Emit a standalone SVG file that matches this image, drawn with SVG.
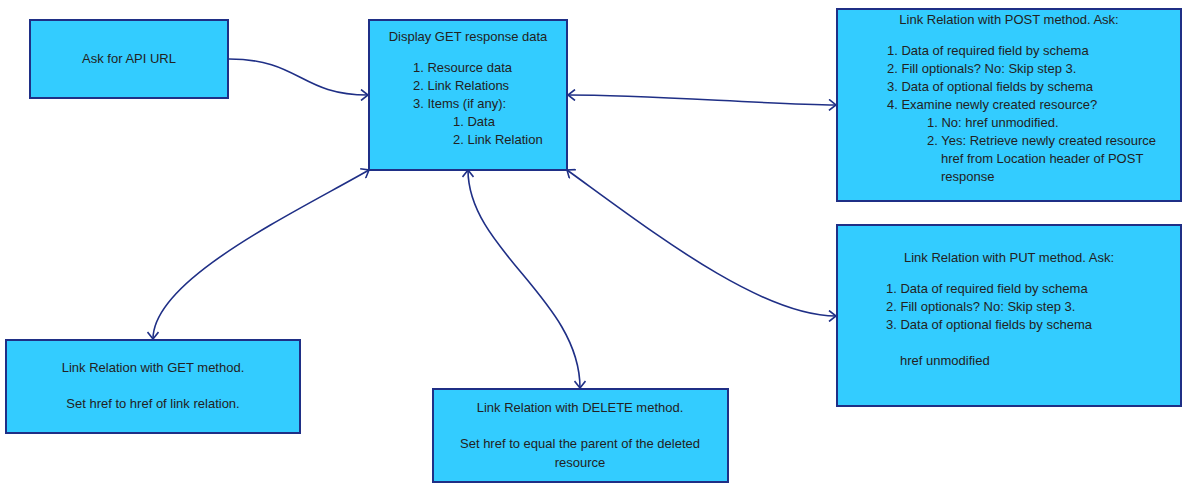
<svg xmlns="http://www.w3.org/2000/svg" width="1189" height="488" viewBox="0 0 1189 488">
<style>
.box{fill:#33ccff;stroke:#1f2f86;stroke-width:2}
.t{font-family:"Liberation Sans",Arial,sans-serif;font-size:13px;fill:#222}
.c{text-anchor:middle}
.edge{fill:none;stroke:#1f2f86;stroke-width:1.6;marker-end:url(#arr)}
.bi{marker-start:url(#arr)}
</style>
<defs>
<marker id="arr" viewBox="0 0 10 12" refX="9" refY="6" markerWidth="10" markerHeight="12" markerUnits="userSpaceOnUse" orient="auto-start-reverse">
<path d="M2,0.5 L9,6 L2,11.5" fill="none" stroke="#1f2f86" stroke-width="1.6"/>
</marker>
</defs>
<rect width="1189" height="488" fill="#ffffff"/>
<g id="connectors">
<path class="edge" d="M229,59 C300,59 300,95 368,95"/>
<path class="edge bi" d="M568,95 C650,95 760,104 836,105"/>
<path class="edge bi" d="M369,170 C290,215 153,280 153,339"/>
<path class="edge bi" d="M468,170 C468,250 580,300 580,388"/>
<path class="edge bi" d="M567,170 C650,230 760,316 836,316"/>
</g>
<g id="ask">
<rect class="box" x="30" y="20" width="198" height="78"/>
<text class="t c" x="129" y="63">Ask for API URL</text>
</g>
<g id="display">
<rect class="box" x="369" y="20" width="198" height="150"/>
<text class="t c" x="468" y="41">Display GET response data</text>
<text class="t" x="413" y="72">1. Resource data</text>
<text class="t" x="413" y="90">2. Link Relations</text>
<text class="t" x="413" y="108">3. Items (if any):</text>
<text class="t" x="453" y="126">1. Data</text>
<text class="t" x="453" y="144">2. Link Relation</text>
</g>
<g id="post">
<rect class="box" x="837" y="9" width="344" height="192"/>
<text class="t c" x="1009" y="24">Link Relation with POST method. Ask:</text>
<text class="t" x="887" y="55">1. Data of required field by schema</text>
<text class="t" x="887" y="73">2. Fill optionals? No: Skip step 3.</text>
<text class="t" x="887" y="91">3. Data of optional fields by schema</text>
<text class="t" x="887" y="109">4. Examine newly created resource?</text>
<text class="t" x="927" y="127">1. No: href unmodified.</text>
<text class="t" x="927" y="145">2. Yes: Retrieve newly created resource</text>
<text class="t" x="941" y="163">href from Location header of POST</text>
<text class="t" x="941" y="181">response</text>
</g>
<g id="put">
<rect class="box" x="837" y="225" width="344" height="181"/>
<text class="t c" x="1009" y="262">Link Relation with PUT method. Ask:</text>
<text class="t" x="886" y="293">1. Data of required field by schema</text>
<text class="t" x="886" y="311">2. Fill optionals? No: Skip step 3.</text>
<text class="t" x="886" y="329">3. Data of optional fields by schema</text>
<text class="t" x="900" y="365">href unmodified</text>
</g>
<g id="get">
<rect class="box" x="6" y="340" width="294" height="93"/>
<text class="t c" x="153" y="372">Link Relation with GET method.</text>
<text class="t c" x="153" y="408">Set href to href of link relation.</text>
</g>
<g id="delete">
<rect class="box" x="433" y="389" width="295" height="93"/>
<text class="t c" x="580" y="412">Link Relation with DELETE method.</text>
<text class="t c" x="580" y="448">Set href to equal the parent of the deleted</text>
<text class="t c" x="580" y="467">resource</text>
</g>
</svg>
